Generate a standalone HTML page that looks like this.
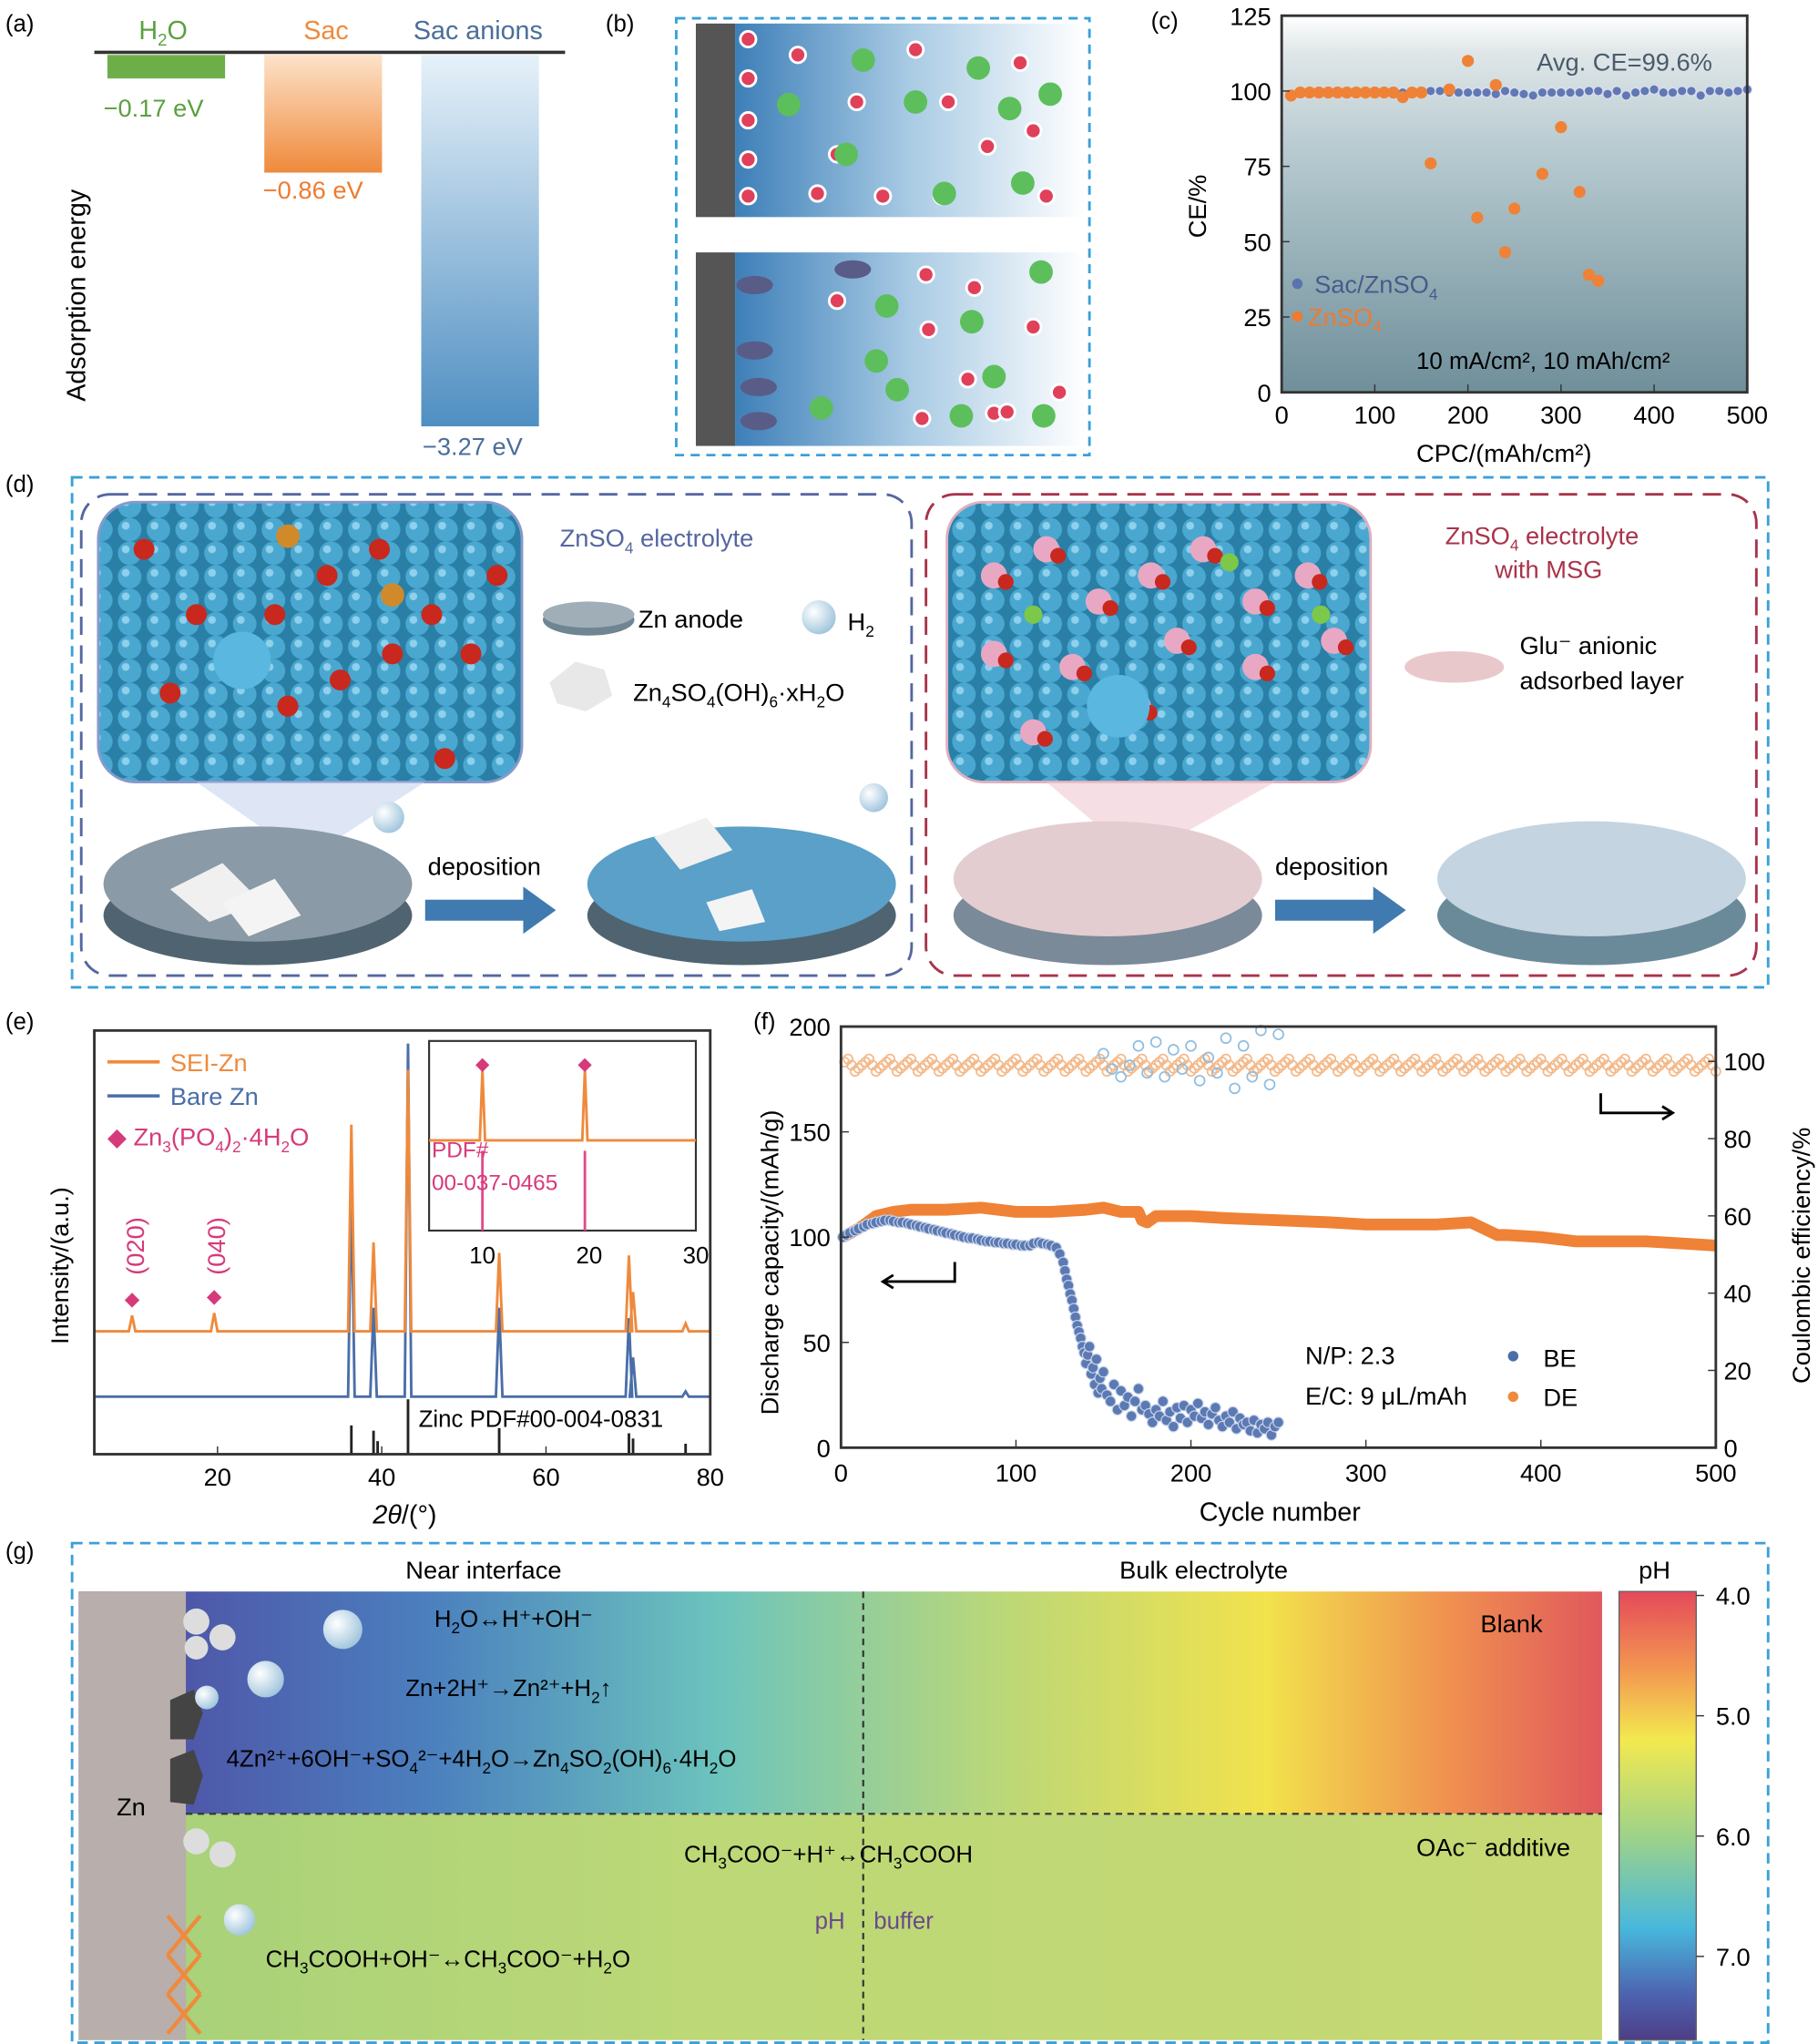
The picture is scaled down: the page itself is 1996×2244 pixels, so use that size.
<!DOCTYPE html>
<html><head><meta charset="utf-8"><style>
html,body{margin:0;padding:0;background:#fff}
svg{display:block;font-family:"Liberation Sans",Arial,sans-serif}
</style></head><body>
<svg id="fig" width="1996" height="2244" viewBox="0 0 1390 1563" xmlns="http://www.w3.org/2000/svg">
<defs>
<linearGradient id="gOr" x1="0" y1="0" x2="0" y2="1"><stop offset="0" stop-color="#fde2c9"/><stop offset="1" stop-color="#ef8a3c"/></linearGradient>
<linearGradient id="gBl" x1="0" y1="0" x2="0" y2="1"><stop offset="0" stop-color="#e6f1f9"/><stop offset="1" stop-color="#4f8fc2"/></linearGradient>
<linearGradient id="gC" x1="0" y1="0" x2="0" y2="1"><stop offset="0" stop-color="#fff"/><stop offset="0.1" stop-color="#dfe6e8"/><stop offset="0.35" stop-color="#b8cbd1"/><stop offset="1" stop-color="#6f8f9a"/></linearGradient>
<linearGradient id="gB" x1="0" y1="0" x2="1" y2="0"><stop offset="0" stop-color="#3d7fb8"/><stop offset="0.5" stop-color="#a9cbe4"/><stop offset="1" stop-color="#fff"/></linearGradient>
<linearGradient id="gG1" x1="0" y1="0" x2="1" y2="0"><stop offset="0" stop-color="#5046a0"/><stop offset="0.23" stop-color="#4b7fbe"/><stop offset="0.42" stop-color="#6cc4bd"/><stop offset="0.6" stop-color="#b9d77a"/><stop offset="0.78" stop-color="#f2e24c"/><stop offset="0.9" stop-color="#f09050"/><stop offset="1" stop-color="#e0585c"/></linearGradient>
<linearGradient id="gG2" x1="0" y1="0" x2="1" y2="0"><stop offset="0" stop-color="#a5d07a"/><stop offset="0.4" stop-color="#bcd877"/><stop offset="1" stop-color="#c6d873"/></linearGradient>
<linearGradient id="gCB" x1="0" y1="0" x2="0" y2="1"><stop offset="0" stop-color="#e5495a"/><stop offset="0.18" stop-color="#f39a50"/><stop offset="0.33" stop-color="#f3e94f"/><stop offset="0.55" stop-color="#9cd28a"/><stop offset="0.75" stop-color="#48b8dc"/><stop offset="0.9" stop-color="#4d62b0"/><stop offset="1" stop-color="#4d3e86"/></linearGradient>
<pattern id="sph" width="22" height="18" patternUnits="userSpaceOnUse"><rect width="22" height="18" fill="#2a7fa6"/><circle cx="11" cy="9" r="9" fill="#4aa8d0"/><circle cx="8" cy="6" r="3" fill="#8fd0ec"/></pattern>
<radialGradient id="bub" cx="0.35" cy="0.35" r="0.7"><stop offset="0" stop-color="#fff"/><stop offset="1" stop-color="#9fc4dc"/></radialGradient>
</defs>

<g>
<text x="4" y="24" font-size="18">(a)</text>
<line x1="72" y1="40" x2="432" y2="40" stroke="#333" stroke-width="2.5"/>
<rect x="82" y="42" width="90" height="18" fill="#6dae49"/>
<rect x="202" y="42" width="90" height="90" fill="url(#gOr)"/>
<rect x="322" y="42" width="90" height="284" fill="url(#gBl)"/>
<text x="106" y="30" font-size="20" fill="#5aa040">H<tspan font-size="13" dy="5">2</tspan><tspan dy="-5">O</tspan></text>
<text x="232" y="30" font-size="20" fill="#ef8a3c">Sac</text>
<text x="316" y="30" font-size="20" fill="#4a6e9a">Sac anions</text>
<text x="79" y="89" font-size="19" fill="#5aa040">−0.17 eV</text>
<text x="201" y="152" font-size="19" fill="#ef7a30">−0.86 eV</text>
<text x="323" y="348" font-size="19" fill="#4a6e9a">−3.27 eV</text>
<text transform="translate(65,307) rotate(-90)" font-size="20">Adsorption energy</text>
</g>

<g>
<text x="463" y="24" font-size="18">(b)</text>
<rect x="517" y="14" width="316" height="334" fill="none" stroke="#3aa0d8" stroke-width="2" stroke-dasharray="7,5"/>
<rect x="532" y="18" width="30" height="148" fill="#555"/>
<rect x="562" y="18" width="268" height="148" fill="url(#gB)"/>
<rect x="532" y="193" width="30" height="148" fill="#555"/>
<rect x="562" y="193" width="268" height="148" fill="url(#gB)"/>
<g id="bmol"></g>
</g>

<g>
<text x="880" y="22" font-size="18">(c)</text>
<rect x="980" y="12" width="356" height="288" fill="url(#gC)"/>
<g id="cmarks"></g>
<rect x="980" y="12" width="356" height="288" fill="none" stroke="#333" stroke-width="2"/>
<g id="caxes" font-size="19"></g>
<text x="1175" y="54" font-size="19" fill="#4a5a6a">Avg. CE=99.6%</text>
<circle cx="992" cy="217" r="4" fill="#5a73b0"/><text x="1005" y="224" font-size="19" fill="#4a5a8a">Sac/ZnSO<tspan font-size="12" dy="5">4</tspan></text>
<circle cx="992" cy="242" r="4" fill="#ef7a30"/><text x="1000" y="249" font-size="19" fill="#ef7a30">ZnSO<tspan font-size="12" dy="5">4</tspan></text>
<text x="1083" y="282" font-size="18">10 mA/cm², 10 mAh/cm²</text>
<text x="1083" y="353" font-size="19">CPC/(mAh/cm²)</text>
<text transform="translate(922,182) rotate(-90)" font-size="19">CE/%</text>
</g>

<g>
<text x="4" y="376" font-size="18">(d)</text>
<rect x="55" y="365" width="1297" height="390" fill="none" stroke="#3aa0d8" stroke-width="2" stroke-dasharray="8,5"/>
<rect x="62" y="378" width="635" height="368" rx="22" fill="none" stroke="#5566a0" stroke-width="2" stroke-dasharray="14,8"/>
<rect x="708" y="378" width="635" height="368" rx="22" fill="none" stroke="#a8334a" stroke-width="2" stroke-dasharray="14,8"/>
<rect x="75" y="384" width="324" height="214" rx="28" fill="url(#sph)" stroke="#8899cc" stroke-width="2"/>
<rect x="724" y="384" width="324" height="214" rx="28" fill="url(#sph)" stroke="#e0b0c0" stroke-width="2"/>
<polygon points="150,598 325,598 260,640 210,640" fill="#c8d4ee" opacity="0.6"/>
<polygon points="800,598 975,598 900,640 850,640" fill="#f0c8d4" opacity="0.6"/>
<g id="dmol"></g>
<ellipse cx="197" cy="700" rx="118" ry="38" fill="#4f6470"/><ellipse cx="197" cy="676" rx="118" ry="44" fill="#8a9aa6"/>
<ellipse cx="567" cy="700" rx="118" ry="38" fill="#4f6470"/><ellipse cx="567" cy="676" rx="118" ry="44" fill="#5aa0c8"/>
<ellipse cx="847" cy="700" rx="118" ry="38" fill="#7a8a98"/><ellipse cx="847" cy="672" rx="118" ry="44" fill="#e4cdd0"/>
<ellipse cx="1217" cy="700" rx="118" ry="38" fill="#6a8a9a"/><ellipse cx="1217" cy="672" rx="118" ry="44" fill="#c4d4e0"/>
<polygon points="130,680 170,660 200,690 160,705" fill="#f0f0f0"/><polygon points="170,690 210,672 230,700 190,716" fill="#f4f4f4"/>
<polygon points="500,640 540,625 560,650 520,665" fill="#f0f0f0"/><polygon points="540,690 575,680 585,705 550,712" fill="#f4f4f4"/>
<circle cx="297" cy="625" r="12" fill="url(#bub)"/><circle cx="668" cy="610" r="11" fill="url(#bub)"/>
<text x="327" y="669" font-size="19">deposition</text>
<text x="975" y="669" font-size="19">deposition</text>
<path d="M325,688 h75 l0,-10 l25,18 l-25,18 v-10 h-75 z" fill="#3f7ab0"/>
<path d="M975,688 h75 l0,-10 l25,18 l-25,18 v-10 h-75 z" fill="#3f7ab0"/>
<text x="428" y="418" font-size="19" fill="#5566a0">ZnSO<tspan font-size="12" dy="5">4</tspan><tspan dy="-5"> electrolyte</tspan></text>
<text x="1105" y="416" font-size="19" fill="#a8334a">ZnSO<tspan font-size="12" dy="5">4</tspan><tspan dy="-5"> electrolyte</tspan></text>
<text x="1143" y="442" font-size="19" fill="#a8334a">with MSG</text>
<ellipse cx="450" cy="474" rx="35" ry="12" fill="#6f8592"/><ellipse cx="450" cy="470" rx="35" ry="10" fill="#a0aeb8"/>
<text x="488" y="480" font-size="19">Zn anode</text>
<circle cx="626" cy="472" r="13" fill="url(#bub)"/><text x="648" y="482" font-size="19">H<tspan font-size="12" dy="5">2</tspan></text>
<polygon points="420,522 440,506 462,512 468,532 448,544 426,538" fill="#e8e8e8"/>
<text x="484" y="536" font-size="19">Zn<tspan font-size="12" dy="5">4</tspan><tspan dy="-5">SO</tspan><tspan font-size="12" dy="5">4</tspan><tspan dy="-5">(OH)</tspan><tspan font-size="12" dy="5">6</tspan><tspan dy="-5">·xH</tspan><tspan font-size="12" dy="5">2</tspan><tspan dy="-5">O</tspan></text>
<ellipse cx="1112" cy="510" rx="38" ry="12" fill="#e9c8cc"/>
<text x="1162" y="500" font-size="19">Glu⁻ anionic</text>
<text x="1162" y="527" font-size="19">adsorbed layer</text>
</g>

<g>
<text x="4" y="787" font-size="18">(e)</text>
<g id="emarks"></g>
<rect x="72" y="788" width="471" height="324" fill="none" stroke="#333" stroke-width="2"/>
<rect x="328" y="796" width="204" height="145" fill="#fff" stroke="#333" stroke-width="1.5"/>
<g id="einset"></g>
<g id="eaxes" font-size="19"></g>
<line x1="82" y1="812" x2="122" y2="812" stroke="#ef8a3c" stroke-width="2.5"/><text x="130" y="819" font-size="19" fill="#ef8a3c">SEI-Zn</text>
<line x1="82" y1="838" x2="122" y2="838" stroke="#4a6ea8" stroke-width="2.5"/><text x="130" y="845" font-size="19" fill="#4a6ea8">Bare Zn</text>
<text x="82" y="876" font-size="19" fill="#d63a7a">◆ Zn<tspan font-size="12" dy="5">3</tspan><tspan dy="-5">(PO</tspan><tspan font-size="12" dy="5">4</tspan><tspan dy="-5">)</tspan><tspan font-size="12" dy="5">2</tspan><tspan dy="-5">·4H</tspan><tspan font-size="12" dy="5">2</tspan><tspan dy="-5">O</tspan></text>
<text x="330" y="885" font-size="17" fill="#d63a7a">PDF#</text>
<text x="330" y="910" font-size="17" fill="#d63a7a">00-037-0465</text>
<text transform="translate(110,975) rotate(-90)" font-size="19" fill="#d63a7a">(020)</text>
<text transform="translate(172,975) rotate(-90)" font-size="19" fill="#d63a7a">(040)</text>
<text x="320" y="1091" font-size="18">Zinc PDF#00-004-0831</text>
<text x="285" y="1165" font-size="20" font-style="italic">2θ<tspan font-style="normal">/(°)</tspan></text>
<text transform="translate(52,1028) rotate(-90)" font-size="19">Intensity/(a.u.)</text>
</g>

<g>
<text x="576" y="787" font-size="18">(f)</text>
<g id="fmarks"></g>
<rect x="643" y="785" width="669" height="322" fill="none" stroke="#333" stroke-width="2"/>
<g id="faxes" font-size="19"></g>
<path d="M730,965 v15 h-55 m8,-5 l-8,5 l8,5" fill="none" stroke="#000" stroke-width="2"/>
<path d="M1224,836 v15 h55 m-8,-5 l8,5 l-8,5" fill="none" stroke="#000" stroke-width="2"/>
<text x="998" y="1043" font-size="19">N/P: 2.3</text>
<text x="998" y="1074" font-size="19">E/C: 9 μL/mAh</text>
<circle cx="1157" cy="1037" r="4" fill="#4a6ea8"/><text x="1180" y="1045" font-size="19">BE</text>
<circle cx="1157" cy="1068" r="4" fill="#ef8a3c"/><text x="1180" y="1075" font-size="19">DE</text>
<text x="917" y="1163" font-size="20">Cycle number</text>
<text transform="translate(595,1082) rotate(-90)" font-size="19">Discharge capacity/(mAh/g)</text>
<text transform="translate(1384,1058) rotate(-90)" font-size="19">Coulombic efficiency/%</text>
</g>

<g>
<text x="4" y="1192" font-size="18">(g)</text>
<rect x="55" y="1180" width="1297" height="382" fill="none" stroke="#3aa0d8" stroke-width="2" stroke-dasharray="8,5"/>
<rect x="60" y="1217" width="1165" height="170" fill="url(#gG1)"/>
<rect x="60" y="1387" width="1165" height="173" fill="url(#gG2)"/>
<rect x="60" y="1217" width="82" height="343" fill="#b8aeac"/>
<polygon points="130,1300 148,1292 155,1310 148,1330 130,1330" fill="#444"/>
<polygon points="130,1345 148,1338 155,1358 148,1380 130,1378" fill="#444"/>
<path d="M128,1465 l25,30 M153,1465 l-25,30 M128,1495 l25,30 M153,1495 l-25,30 M128,1525 l25,30 M153,1525 l-25,30" stroke="#ef8a3c" stroke-width="3"/>
<circle cx="150" cy="1240" r="10" fill="#ddd"/><circle cx="170" cy="1252" r="10" fill="#ddd"/><circle cx="150" cy="1260" r="9" fill="#ddd"/>
<circle cx="150" cy="1408" r="10" fill="#ddd"/><circle cx="170" cy="1418" r="10" fill="#ddd"/>
<circle cx="262" cy="1246" r="15" fill="url(#bub)"/><circle cx="203" cy="1284" r="14" fill="url(#bub)"/><circle cx="158" cy="1298" r="9" fill="url(#bub)"/><circle cx="183" cy="1468" r="12" fill="url(#bub)"/>
<line x1="660" y1="1217" x2="660" y2="1560" stroke="#333" stroke-width="1.5" stroke-dasharray="5,4"/>
<line x1="142" y1="1387" x2="1225" y2="1387" stroke="#333" stroke-width="1.5" stroke-dasharray="5,4"/>
<text x="310" y="1207" font-size="19">Near interface</text>
<text x="856" y="1207" font-size="19">Bulk electrolyte</text>
<text x="1253" y="1207" font-size="19">pH</text>
<text x="89" y="1388" font-size="19">Zn</text>
<text x="1132" y="1248" font-size="19">Blank</text>
<text x="1083" y="1419" font-size="19">OAc⁻ additive</text>
<text x="332" y="1244" font-size="18">H<tspan font-size="12" dy="5">2</tspan><tspan dy="-5">O↔H⁺+OH⁻</tspan></text>
<text x="310" y="1297" font-size="18">Zn+2H⁺→Zn²⁺+H<tspan font-size="12" dy="5">2</tspan><tspan dy="-5">↑</tspan></text>
<text x="173" y="1351" font-size="18">4Zn²⁺+6OH⁻+SO<tspan font-size="12" dy="5">4</tspan><tspan dy="-5">²⁻+4H</tspan><tspan font-size="12" dy="5">2</tspan><tspan dy="-5">O→Zn</tspan><tspan font-size="12" dy="5">4</tspan><tspan dy="-5">SO</tspan><tspan font-size="12" dy="5">2</tspan><tspan dy="-5">(OH)</tspan><tspan font-size="12" dy="5">6</tspan><tspan dy="-5">·4H</tspan><tspan font-size="12" dy="5">2</tspan><tspan dy="-5">O</tspan></text>
<text x="523" y="1424" font-size="18">CH<tspan font-size="12" dy="5">3</tspan><tspan dy="-5">COO⁻+H⁺↔CH</tspan><tspan font-size="12" dy="5">3</tspan><tspan dy="-5">COOH</tspan></text>
<text x="623" y="1475" font-size="18" fill="#6a4a8a">pH</text><text x="668" y="1475" font-size="18" fill="#6a4a8a">buffer</text>
<text x="203" y="1504" font-size="18">CH<tspan font-size="12" dy="5">3</tspan><tspan dy="-5">COOH+OH⁻↔CH</tspan><tspan font-size="12" dy="5">3</tspan><tspan dy="-5">COO⁻+H</tspan><tspan font-size="12" dy="5">2</tspan><tspan dy="-5">O</tspan></text>
<rect x="1238" y="1217" width="59" height="343" fill="url(#gCB)" stroke="#666"/>
<g id="gaxes" font-size="19"></g>
</g>
</svg>
<script>
const cSacX=[10,20,30,40,50,60,70,80,90,100,110,120,130,140,150,160,170,180,190,200,210,220,230,240,250,260,270,280,290,300,310,320,330,340,350,360,370,380,390,400,410,420,430,440,450,460,470,480,490,500];
const cSacY=[98.5,99,99,99,99.5,99,99.5,99,99.5,99.5,99,99.5,99.5,100,99.5,100,100,99.5,99.5,99.5,99.5,99.5,99,100,99.5,99,98.5,99.5,99.5,99.5,99.5,99.5,100,100,99,100,98.5,99.5,100,100.5,99.5,99.5,100,100,98.5,100,100,99.5,100,100.5];
const cZnX=[10,20,30,40,50,60,70,80,90,100,110,120,130,140,150,160,180,200,210,230,240,250,280,300,320,330,340];
const cZnY=[98.5,99.5,99.5,99.5,99.5,99.5,99.5,99.5,99.5,99.5,99.5,99.5,98,99.5,99.5,76,100.5,110,58,102,46.5,61,72.5,88,66.5,39,37];
const cXTicks=[0,100,200,300,400,500];
const cYTicks=[0,25,50,75,100,125];
const ePeakPos=[9.6,19.6,36.3,39.0,43.2,54.3,70.1,70.6,77.0];
const eSeiH=[12,14,158,68,200,60,58,30,6];
const eBareH=[0,0,163,68,270,68,60,30,4];
const eRefPos=[36.3,39.0,39.5,43.2,54.3,70.1,70.6,77.0];
const eRefH=[22,18,10,42,20,16,12,8];
const eXTicks=[20,40,60,80];
const eInsetPeaks=[10,19.6];
const eInsetTicks=[10,20,30];
const fCyc=[1,3,5,8,10,13,15,18,20,23,25,28,30,33,35,38,40,43,45,48,50,53,55,58,60,63,65,68,70,73,75,78,80,83,85,88,90,93,95,98,100,103,105,108,110,113,115,118,120,123,125,127,128,129,130,131,132,133,134,135,136,137,138,139,140,141,142,143,144,145,146,147,148,149,150,152,154,156,158,160,162,164,166,168,170,172,174,176,178,180,182,184,186,188,190,192,194,196,198,200,202,204,206,208,210,212,214,216,218,220,222,224,226,228,230,232,234,236,238,240,242,244,246,248,250];
const fBE=[100,101,102,103,104,105,106,106.5,107,107.5,108,108,107.5,107,107,106.5,106,105.5,105,104.5,104,103.5,103,102.5,102,101.5,101,100.5,100,99.5,99.5,99,98.5,98,98,97.5,97.5,97,97,96.5,96.5,96,96,96,97,97.5,97,96.5,96,95,92,88,84,80,77,73,70,66,62,58,55,52,48,45,40,44,48,35,38,30,42,26,33,28,36,25,22,30,18,27,20,24,15,22,28,18,20,16,12,18,15,22,13,17,10,19,14,20,12,18,15,21,14,17,11,16,19,13,10,15,12,17,9,14,11,12,8,13,7,11,9,12,6,10,12];
const fDECyc=[1,10,20,30,40,60,80,100,120,140,150,160,170,172,175,180,200,220,250,280,300,320,340,360,365,370,375,380,400,420,440,460,480,500];
const fDE=[100,104,110,112,113,113,114,112,112,113,114,112,112,108,107,110,110,109,108,107,106,106,106,107,105,103,101,101,100,98,98,98,97,96];
const fCEBECyc=[150,155,160,165,170,175,180,185,190,195,200,205,210,215,220,225,230,235,240,245,250];
const fCEBE=[102,98,96,99,104,97,105,96,103,98,104,95,101,97,106,93,104,96,108,94,107];
const fXTicks=[0,100,200,300,400,500];
const fYTicks=[0,50,100,150,200];
const fY2Ticks=[0,20,40,60,80,100];
const gPH=[4.0,5.0,6.0,7.0];

const NS='http://www.w3.org/2000/svg';
function mk(p,tag,at,txt){const e=document.createElementNS(NS,tag);for(const k in at)e.setAttribute(k,at[k]);if(txt!==undefined)e.textContent=txt;p.appendChild(e);return e;}
const $=id=>document.getElementById(id);

const cx=v=>980+v/500*356, cy=v=>300-v/125*288;
const cm=$('cmarks');
cSacX.forEach((x,i)=>{const c=mk(cm,'circle',{cx:cx(x),cy:cy(cSacY[i]),r:3.6,fill:'#6079b4',stroke:'#dde',"stroke-width":0.8});

});
cZnX.forEach((x,i)=>{const c=mk(cm,'circle',{cx:cx(x),cy:cy(cZnY[i]),r:4.6,fill:'#ef8236'});

});
const ca=$('caxes');
cXTicks.forEach(t=>{mk(ca,'line',{x1:cx(t),x2:cx(t),y1:300,y2:294,stroke:'#333'});mk(ca,'text',{x:cx(t),y:324,"text-anchor":"middle"},t);});
cYTicks.forEach(t=>{mk(ca,'line',{x1:980,x2:986,y1:cy(t),y2:cy(t),stroke:'#333'});mk(ca,'text',{x:972,y:cy(t)+7,"text-anchor":"end"},t);});

const ex=v=>72+(v-5)/75*471;
function xrd(base,H,col,name){let s='M72,'+base;ePeakPos.forEach((p,i)=>{if(!H[i])return;const px=ex(p);s+=' L'+(px-2.5)+','+base+' L'+px+','+(base-H[i])+' L'+(px+2.5)+','+base;});s+=' L543,'+base;
const e=mk($('emarks'),'path',{d:s,fill:'none',stroke:col,"stroke-width":2});

}
xrd(1068,eBareH,'#4a6ea8','bare-zn-line');
xrd(1018,eSeiH,'#ef8a3c','sei-zn-line');
[0,1].forEach(i=>{mk($('emarks'),'text',{x:ex(ePeakPos[i]),y:1018-eSeiH[i]-8,"text-anchor":"middle",fill:'#d63a7a',"font-size":15},'◆');});
eRefPos.forEach((p,i)=>{const l=mk($('emarks'),'line',{x1:ex(p),x2:ex(p),y1:1112,y2:1112-eRefH[i],stroke:'#222',"stroke-width":2});

});
const ea=$('eaxes');
eXTicks.forEach(t=>{mk(ea,'line',{x1:ex(t),x2:ex(t),y1:1112,y2:1106,stroke:'#333'});mk(ea,'text',{x:ex(t),y:1136,"text-anchor":"middle"},t);});
const ix=v=>328+(v-5)/25*204;
let s='M328,872';eInsetPeaks.forEach(p=>{s+=' L'+(ix(p)-2)+',872 L'+ix(p)+',818 L'+(ix(p)+2)+',872';});s+=' L532,872';
mk($('einset'),'path',{d:s,fill:'none',stroke:'#ef8a3c',"stroke-width":2});
eInsetPeaks.forEach(p=>{mk($('einset'),'line',{x1:ix(p),x2:ix(p),y1:941,y2:880,stroke:'#e04a8a',"stroke-width":2});mk($('einset'),'text',{x:ix(p),y:818,"text-anchor":"middle",fill:'#d63a7a',"font-size":14},'◆');});
eInsetTicks.forEach(t=>{mk($('einset'),'text',{x:ix(t),y:966,"text-anchor":"middle","font-size":18},t);});

const fx=v=>643+v/500*669, fy=v=>1107-v/200*322, fy2=v=>1107-v/109*322;
const fm=$('fmarks');
const ceNoise=[0,2,-1,1,-2,1,0,-1,2,-2,1,-1];
for(let c=2;c<=500;c+=2){const v=99+ceNoise[(c*5)%12]*0.8;mk(fm,'circle',{cx:fx(c),cy:fy2(v),r:3.5,fill:'none',stroke:'#f3b98a',"stroke-width":1.2});}
fCEBECyc.forEach((c,i)=>{const e=mk(fm,'circle',{cx:fx(c),cy:fy2(fCEBE[i]),r:3.8,fill:'none',stroke:'#8fbde0',"stroke-width":1.2});

});
let dd='';fDECyc.forEach((c,i)=>{dd+=(i?'L':'M')+fx(c)+','+fy(fDE[i]);});
const dl=mk(fm,'path',{d:dd,fill:'none',stroke:'#ef8236',"stroke-width":9,"stroke-linejoin":"round"});


fCyc.forEach((c,i)=>{const e=mk(fm,'circle',{cx:fx(c),cy:fy(fBE[i]),r:4,fill:'#5b79b2',stroke:'#c8d4ea',"stroke-width":0.8});

});
const fa=$('faxes');
fXTicks.forEach(t=>{mk(fa,'line',{x1:fx(t),x2:fx(t),y1:1107,y2:1101,stroke:'#333'});mk(fa,'text',{x:fx(t),y:1133,"text-anchor":"middle"},t);});
fYTicks.forEach(t=>{mk(fa,'line',{x1:643,x2:649,y1:fy(t),y2:fy(t),stroke:'#333'});mk(fa,'text',{x:635,y:fy(t)+7,"text-anchor":"end"},t);});
fY2Ticks.forEach(t=>{mk(fa,'line',{x1:1312,x2:1306,y1:fy2(t),y2:fy2(t),stroke:'#333'});mk(fa,'text',{x:1318,y:fy2(t)+7},t);});

const gy=v=>1220+(v-4)*92;
gPH.forEach(p=>{mk($('gaxes'),'line',{x1:1297,x2:1303,y1:gy(p),y2:gy(p),stroke:'#333'});mk($('gaxes'),'text',{x:1312,y:gy(p)+7},p.toFixed(1));});

const bm=$('bmol');
[[572,30],[572,60],[572,92],[572,122],[572,150],[610,42],[655,78],[700,38],[725,78],[755,112],[780,48],[800,150],[625,148],[675,150],[720,150],[640,118],[790,100],[708,210],[745,220],[790,250],[710,252],[740,290],[760,316],[640,230],[810,300],[705,320],[770,315]].forEach(p=>{mk(bm,'circle',{cx:p[0],cy:p[1],r:6,fill:'#e0405a',stroke:'#fff',"stroke-width":2});});
[[660,46],[748,52],[803,72],[772,83],[700,78],[647,118],[722,148],[782,140],[603,80],[796,208],[678,234],[743,246],[670,276],[686,298],[628,312],[735,318],[798,318],[760,288]].forEach(p=>{mk(bm,'circle',{cx:p[0],cy:p[1],r:9,fill:'#5cbf5c'});});
[[577,218],[577,268],[580,296],[580,322],[652,206]].forEach(p=>{mk(bm,'ellipse',{cx:p[0],cy:p[1],rx:14,ry:7,fill:'#5a5c88'});});
const dm=$('dmol');
[[110,420],[150,470],[210,470],[250,440],[290,420],[330,470],[360,500],[300,500],[220,540],[260,520],[380,440],[340,580],[130,530]].forEach(p=>{mk(dm,'circle',{cx:p[0],cy:p[1],r:8,fill:'#c8281e'});});
[[300,455],[220,410]].forEach(p=>{mk(dm,'circle',{cx:p[0],cy:p[1],r:9,fill:'#d08a2a'});});
[[760,440],[800,420],[840,460],[880,440],[920,420],[960,460],[1000,440],[760,500],[820,510],[900,490],[960,510],[1020,490],[790,560],[870,540]].forEach(p=>{mk(dm,'circle',{cx:p[0],cy:p[1],r:10,fill:'#e8a8c4'});mk(dm,'circle',{cx:p[0]+9,cy:p[1]+5,r:6,fill:'#c8281e'});});
[[790,470],[940,430],[1010,470]].forEach(p=>{mk(dm,'circle',{cx:p[0],cy:p[1],r:7,fill:'#7cc84a'});});
mk(dm,'circle',{cx:185,cy:505,r:22,fill:'#5ab8e0'});mk(dm,'circle',{cx:855,cy:540,r:24,fill:'#5ab8e0'});
</script>
</body></html>
